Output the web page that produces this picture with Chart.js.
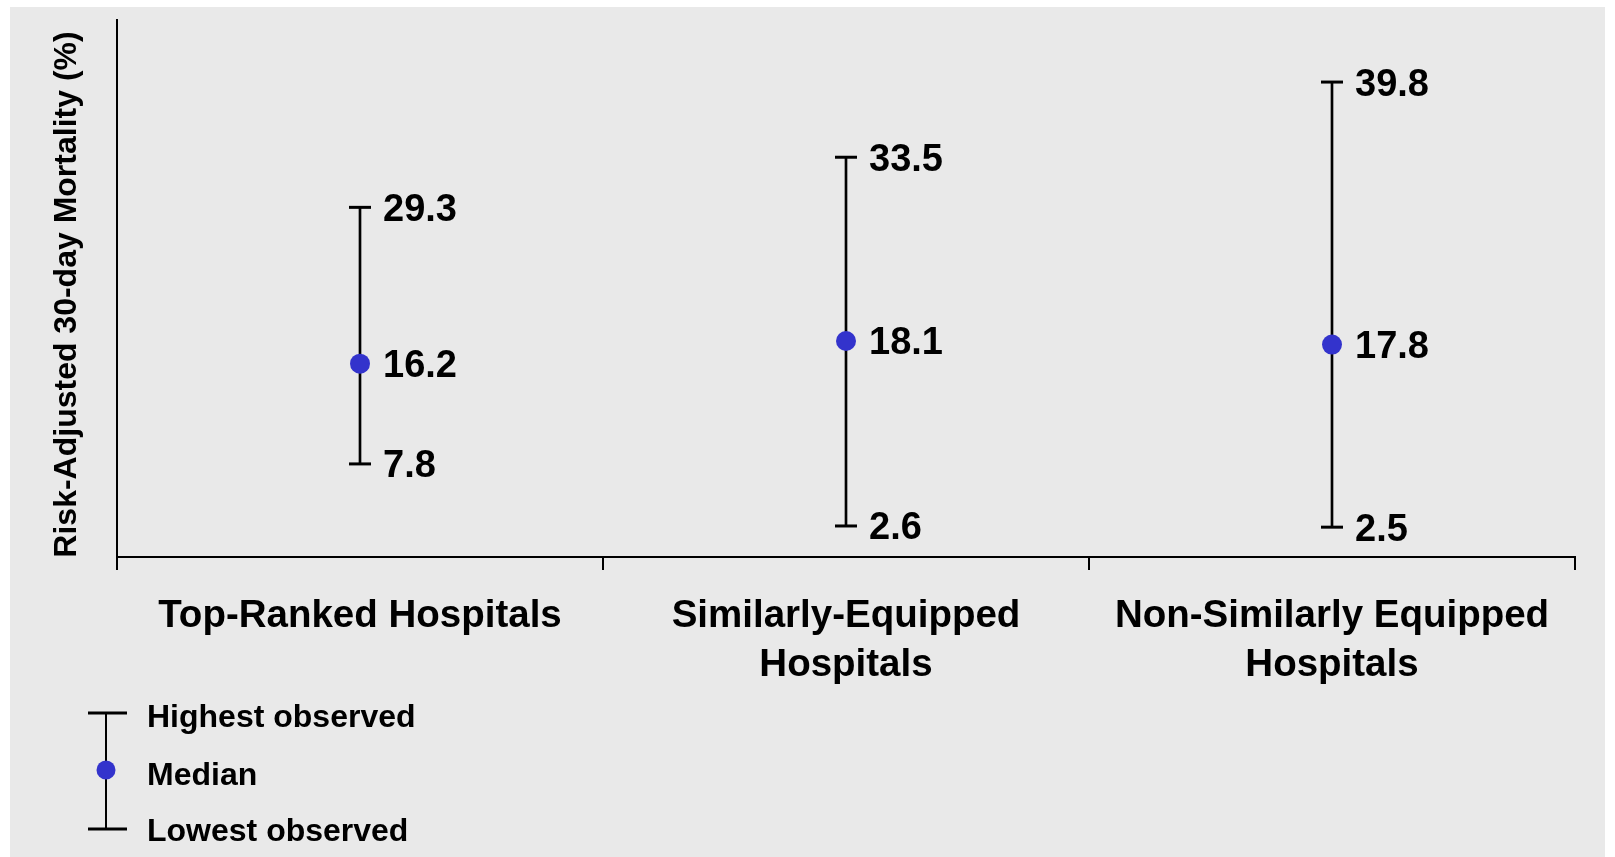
<!DOCTYPE html>
<html>
<head>
<meta charset="utf-8">
<script src="https://cdn.jsdelivr.net/npm/chart.js@4/dist/chart.umd.min.js"></script>
<style>
  html, body { margin: 0; padding: 0; background: #fff; }
  canvas { display: block; }
</style>
</head>
<body>
<canvas id="myChart" width="1615" height="857"></canvas>
<script>
const categories = [['Top-Ranked Hospitals'], ['Similarly-Equipped', 'Hospitals'], ['Non-Similarly Equipped', 'Hospitals']];
const highest = [29.3, 33.5, 39.8];
const median = [16.2, 18.1, 17.8];
const lowest = [7.8, 2.6, 2.5];
const legendLabels = ['Highest observed', 'Median', 'Lowest observed'];
const yTitle = 'Risk-Adjusted 30-day Mortality (%)';
const yMin = 0;
const yMax = 45;

const FONT = '"Liberation Sans", Arial, Helvetica, sans-serif';
const BLUE = '#3333CC';

// gray panel behind everything (thin white strip top/left/right like the original)
const panel = {
  id: 'panel',
  beforeDraw(chart) {
    const ctx = chart.ctx;
    ctx.save();
    ctx.fillStyle = '#E9E9E9';
    ctx.fillRect(10, 7, chart.width - 20, chart.height - 7);
    ctx.restore();
  }
};

// rotated axis title, a bit below the middle of the plot like the original
const axisTitle = {
  id: 'axisTitle',
  afterDraw(chart) {
    const ctx = chart.ctx;
    const area = chart.chartArea;
    ctx.save();
    ctx.translate(67, (area.top + area.bottom) / 2 + 6);
    ctx.rotate(-Math.PI / 2);
    ctx.font = 'bold 32px ' + FONT;
    ctx.fillStyle = '#000';
    ctx.textAlign = 'center';
    ctx.textBaseline = 'middle';
    ctx.fillText(yTitle, 0, 0);
    ctx.restore();
  }
};

// numbers next to caps and median
const valueLabels = {
  id: 'valueLabels',
  afterDatasetsDraw(chart) {
    const ctx = chart.ctx;
    const x = chart.scales.x;
    const y = chart.scales.y;
    ctx.save();
    ctx.font = 'bold 38px ' + FONT;
    ctx.fillStyle = '#000';
    ctx.textAlign = 'left';
    ctx.textBaseline = 'middle';
    for (let i = 0; i < categories.length; i++) {
      const px = x.getPixelForValue(i) + 23;
      [highest[i], median[i], lowest[i]].forEach(function (v) {
        ctx.fillText(v.toFixed(1), px, y.getPixelForValue(v) + 3);
      });
    }
    ctx.restore();
  }
};

// key in the lower left corner
const keyBox = {
  id: 'keyBox',
  afterDraw(chart) {
    const ctx = chart.ctx;
    const cx = 106, top = 713, bottom = 829, mid = 770;
    ctx.save();
    ctx.strokeStyle = '#000';
    ctx.lineWidth = 2;
    ctx.beginPath();
    ctx.moveTo(cx, top);
    ctx.lineTo(cx, bottom);
    ctx.stroke();
    ctx.lineWidth = 3;
    ctx.beginPath();
    ctx.moveTo(cx - 18, top);
    ctx.lineTo(cx + 21, top);
    ctx.moveTo(cx - 18, bottom);
    ctx.lineTo(cx + 21, bottom);
    ctx.stroke();
    ctx.fillStyle = BLUE;
    ctx.beginPath();
    ctx.arc(cx, mid, 9.5, 0, Math.PI * 2);
    ctx.fill();

    ctx.font = 'bold 32px ' + FONT;
    ctx.fillStyle = '#000';
    ctx.textAlign = 'left';
    ctx.textBaseline = 'middle';
    const rows = [718, 776, 832];
    legendLabels.forEach(function (t, i) {
      ctx.fillText(t, 147, rows[i]);
    });
    ctx.restore();
  }
};

function drawChart() {
  const ctx = document.getElementById('myChart');
  new Chart(ctx, {
    type: 'bar',
    data: {
      labels: categories,
      datasets: [
        {
          label: 'Range',
          data: lowest.map(function (v, i) { return [v, highest[i]]; }),
          backgroundColor: '#000',
          borderWidth: 0,
          barThickness: 2,
          order: 3
        },
        {
          type: 'line',
          label: 'Highest observed',
          data: highest,
          showLine: false,
          pointStyle: 'line',
          pointRadius: 11,
          pointBorderWidth: 3,
          pointBorderColor: '#000',
          borderColor: '#000',
          order: 2
        },
        {
          type: 'line',
          label: 'Lowest observed',
          data: lowest,
          showLine: false,
          pointStyle: 'line',
          pointRadius: 11,
          pointBorderWidth: 3,
          pointBorderColor: '#000',
          borderColor: '#000',
          order: 2
        },
        {
          type: 'line',
          label: 'Median',
          data: median,
          showLine: false,
          pointStyle: 'circle',
          pointRadius: 10,
          pointBorderWidth: 0,
          pointBackgroundColor: BLUE,
          borderColor: BLUE,
          order: 1
        }
      ]
    },
    options: {
      responsive: false,
      animation: false,
      layout: { padding: { top: 20, right: 40, left: 0, bottom: 0 } },
      plugins: {
        legend: { display: false },
        tooltip: { enabled: false }
      },
      scales: {
        x: {
          grid: {
            display: true,
            offset: true,
            drawOnChartArea: false,
            drawTicks: true,
            tickLength: 13,
            tickWidth: 2,
            tickColor: '#000',
            lineWidth: 2,
            color: '#000'
          },
          border: { display: true, color: '#000', width: 2 },
          ticks: {
            color: '#000',
            font: { family: FONT, size: 38.5, weight: 'bold', lineHeight: 1.27 },
            padding: 22,
            maxRotation: 0,
            autoSkip: false
          },
          afterFit: function (scale) { scale.height = 300; }
        },
        y: {
          min: yMin,
          max: yMax,
          grid: { display: false },
          border: { display: true, color: '#000', width: 2 },
          ticks: { display: false },
          afterFit: function (scale) { scale.width = 117; }
        }
      }
    },
    plugins: [panel, valueLabels, axisTitle, keyBox]
  });
}

drawChart();
</script>
</body>
</html>
